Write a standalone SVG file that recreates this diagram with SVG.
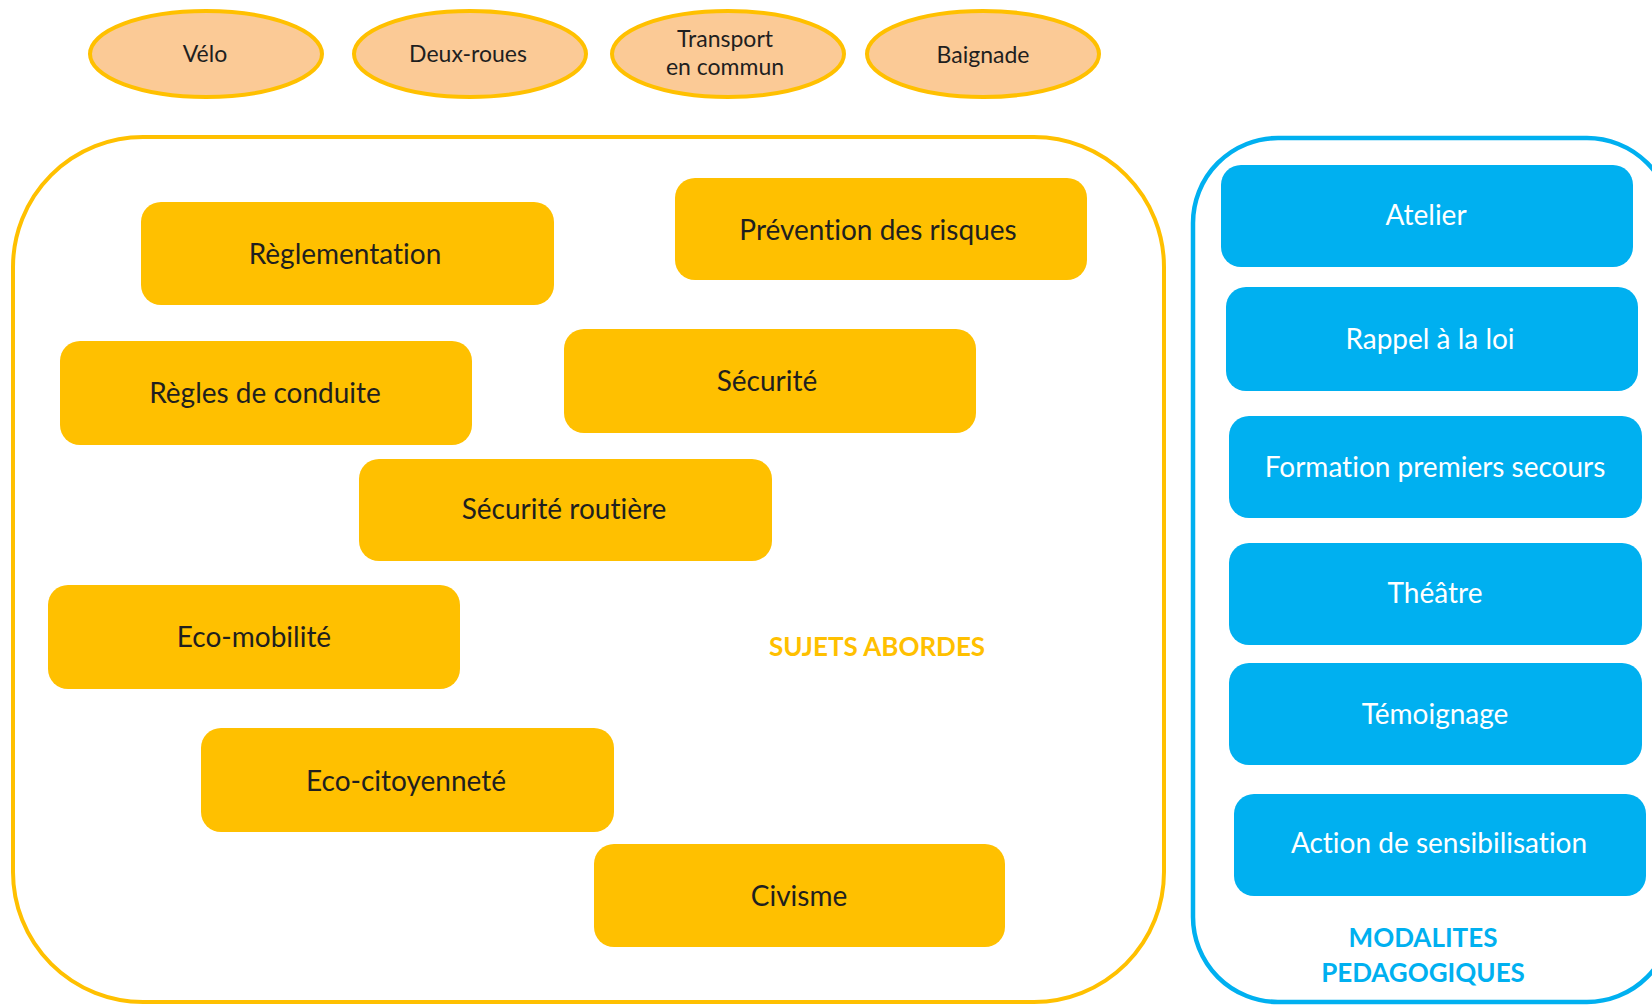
<svg xmlns="http://www.w3.org/2000/svg" width="1652" height="1005" viewBox="0 0 1652 1005">
  <style>
    text { font-family: Lato, "Open Sans", "Liberation Sans", sans-serif; text-anchor: middle; font-variant-ligatures: none; font-feature-settings: "liga" 0, "clig" 0; }
    .theme ellipse { fill: #FBCA96; stroke: #FFC000; stroke-width: 4; }
    .theme text { font-size: 23px; fill: #1f1f1f; }
    .subject rect { fill: #FFC000; }
    .subject text { font-size: 28px; fill: #1f1f1f; }
    .method rect { fill: #00B0F0; }
    .method text { font-size: 28px; fill: #ffffff; }
    .frame-yellow { fill: none; stroke: #FFC000; stroke-width: 4; }
    .frame-blue { fill: none; stroke: #00B0F0; stroke-width: 4.5; }
    .title { font-weight: bold; font-size: 26px; }
  </style>

  <!-- Theme ellipses along the top -->
  <g id="velo" class="theme">
    <ellipse cx="206" cy="54" rx="116" ry="43"/>
    <text x="205" y="62">Vélo</text>
  </g>
  <g id="deux-roues" class="theme">
    <ellipse cx="470" cy="54" rx="116" ry="43"/>
    <text x="468" y="62">Deux-roues</text>
  </g>
  <g id="transport" class="theme">
    <ellipse cx="728" cy="54" rx="116" ry="43"/>
    <text x="725" y="47">Transport</text>
    <text x="725" y="75">en commun</text>
  </g>
  <g id="baignade" class="theme">
    <ellipse cx="983" cy="54" rx="116" ry="43"/>
    <text x="983" y="63">Baignade</text>
  </g>

  <!-- Subjects frame -->
  <g id="sujets-abordes">
    <rect class="frame-yellow" x="13" y="137" width="1151" height="865" rx="130" ry="130"/>
    <text class="title" x="877" y="656" fill="#FFC000">SUJETS ABORDES</text>
  </g>

  <g id="reglementation" class="subject">
    <rect x="141" y="202" width="413" height="103" rx="20"/>
    <text x="345" y="264">Règlementation</text>
  </g>
  <g id="prevention" class="subject">
    <rect x="675" y="178" width="412" height="102" rx="20"/>
    <text x="878" y="240">Prévention des risques</text>
  </g>
  <g id="regles-conduite" class="subject">
    <rect x="60" y="341" width="412" height="104" rx="20"/>
    <text x="265" y="403">Règles de conduite</text>
  </g>
  <g id="securite" class="subject">
    <rect x="564" y="329" width="412" height="104" rx="20"/>
    <text x="767" y="391">Sécurité</text>
  </g>
  <g id="securite-routiere" class="subject">
    <rect x="359" y="459" width="413" height="102" rx="20"/>
    <text x="564" y="519">Sécurité routière</text>
  </g>
  <g id="eco-mobilite" class="subject">
    <rect x="48" y="585" width="412" height="104" rx="20"/>
    <text x="254" y="647">Eco-mobilité</text>
  </g>
  <g id="eco-citoyennete" class="subject">
    <rect x="201" y="728" width="413" height="104" rx="20"/>
    <text x="406" y="791">Eco-citoyenneté</text>
  </g>
  <g id="civisme" class="subject">
    <rect x="594" y="844" width="411" height="103" rx="20"/>
    <text x="799" y="906">Civisme</text>
  </g>

  <!-- Teaching methods frame -->
  <g id="modalites-pedagogiques">
    <rect class="frame-blue" x="1193" y="138" width="479" height="864" rx="85" ry="85"/>
    <text class="title" x="1423" y="947" fill="#00B0F0">MODALITES</text>
    <text class="title" x="1423" y="982" fill="#00B0F0">PEDAGOGIQUES</text>
  </g>

  <g id="atelier" class="method">
    <rect x="1221" y="165" width="412" height="102" rx="20"/>
    <text x="1426" y="225">Atelier</text>
  </g>
  <g id="rappel-loi" class="method">
    <rect x="1226" y="287" width="412" height="104" rx="20"/>
    <text x="1430" y="349">Rappel à la loi</text>
  </g>
  <g id="premiers-secours" class="method">
    <rect x="1229" y="416" width="413" height="102" rx="20"/>
    <text x="1435" y="477">Formation premiers secours</text>
  </g>
  <g id="theatre" class="method">
    <rect x="1229" y="543" width="413" height="102" rx="20"/>
    <text x="1435" y="603">Théâtre</text>
  </g>
  <g id="temoignage" class="method">
    <rect x="1229" y="663" width="413" height="102" rx="20"/>
    <text x="1435" y="724">Témoignage</text>
  </g>
  <g id="sensibilisation" class="method">
    <rect x="1234" y="794" width="412" height="102" rx="20"/>
    <text x="1439" y="853">Action de sensibilisation</text>
  </g>

  <!-- No connectors in this layout -->
  <g id="connectors"/>
</svg>
